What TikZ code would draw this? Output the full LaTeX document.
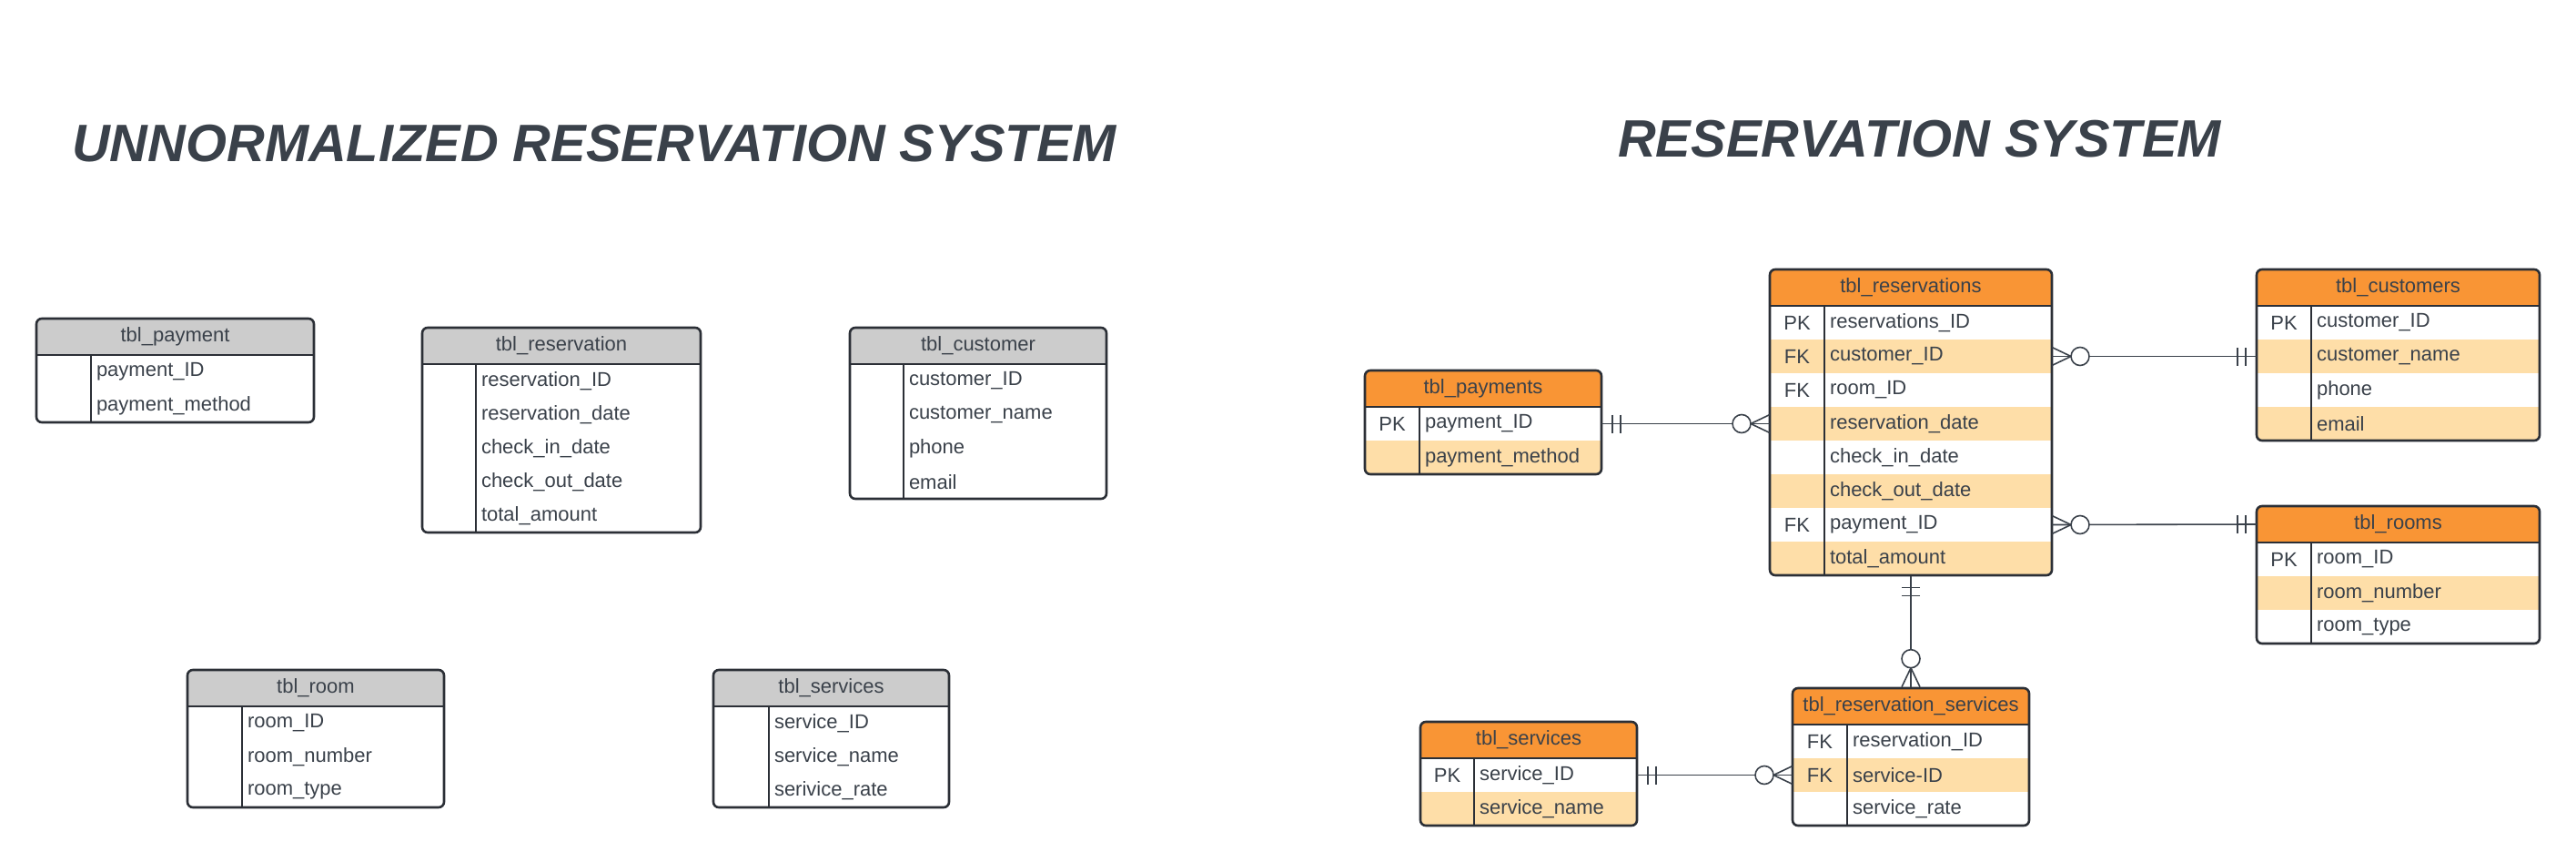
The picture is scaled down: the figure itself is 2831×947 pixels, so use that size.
\documentclass[tikz,border=0pt]{standalone}
\usepackage{fontspec}
\setmainfont{Liberation Sans}
\usetikzlibrary{positioning,fit}
\definecolor{inkgray}{HTML}{3A414A}
\definecolor{framegray}{HTML}{2B2F36}
\definecolor{headgray}{HTML}{CCCCCC}
\definecolor{headorange}{HTML}{F99535}
\definecolor{rowpeach}{HTML}{FEDEA8}
\newcommand{\tblfont}{\fontsize{22}{26}\selectfont}
\tikzset{
    headline/.style={
        font=\fontsize{57.8}{60}\selectfont\bfseries\itshape,
        text=inkgray,
        anchor=base west,
        inner sep=0pt
    },
    tblhead/.style={
        minimum height=40pt,
        inner sep=0pt,
        outer sep=0pt,
        font=\tblfont,
        text=inkgray
    },
    keycell/.style={
        minimum height=37pt,
        inner sep=0pt,
        outer sep=0pt,
        font=\tblfont,
        text=inkgray
    },
    fieldcell/.style={
        minimum height=37pt,
        inner xsep=6pt,
        inner ysep=0pt,
        outer sep=0pt,
        align=left,
        font=\tblfont,
        text=inkgray
    },
    tblframe/.style={draw=framegray, line width=2.6pt, rounded corners=6pt, inner sep=0pt},
    tblline/.style={draw=framegray, line width=2.6pt},
    erlink/.style={draw=inkgray, line width=1.6pt}
}
% name, top left, width, key width, head fill, stripe fill, title, key/field rows
\newcommand{\ertable}[8]{%
    \foreach \k/\f [count=\n] in {#8} {\xdef\tblrowcount{\n}}
    \pgfmathsetmacro{\tblh}{40+37*\tblrowcount}
    \pgfmathsetmacro{\fieldtw}{#3-#4-12}
    \coordinate (#1-nw) at (#2);
    \begin{scope}
        \clip[rounded corners=6pt] (#1-nw) rectangle ++(#3,\tblh);
        \node[tblhead, fill=#5, minimum width=#3pt, anchor=north west, alias=#1-k0] (#1-h) at (#1-nw) {#7};
        \foreach \k/\f [count=\i] in {#8} {
            \pgfmathtruncatemacro{\j}{\i-1}
            \ifodd\i \def\rowfill{white}\else \def\rowfill{#6}\fi
            \node[keycell, fill=\rowfill, minimum width=#4pt, below=0pt of #1-k\j.south west, anchor=north west] (#1-k\i) {\k};
            \node[fieldcell, fill=\rowfill, text width=\fieldtw pt, right=0pt of #1-k\i] (#1-\i) {\f};
        }
    \end{scope}
    \node[tblframe, fit=(#1-nw)(#1-\tblrowcount.south east)] (#1) {};
    \draw[tblline] (#1-h.south west) -- (#1-h.south east);
    \draw[tblline] (#1-k1.north east) -- (#1-k\tblrowcount.south east);
}
% one and only one
\newcommand{\onemark}[2]{%
    \begin{scope}[shift={(#1)}, rotate=#2]
        \draw[erlink] (12,-10) -- (12,10) (21,-10) -- (21,10);
    \end{scope}
}
% zero or many
\newcommand{\manymark}[2]{%
    \begin{scope}[shift={(#1)}, rotate=#2]
        \draw[erlink] (0,-10) -- (21,0) -- (0,10);
        \draw[erlink, fill=white] (31,0) circle[radius=10];
    \end{scope}
}

\begin{document}
\begin{tikzpicture}[x=1pt, y=-1pt]
    \useasboundingbox (0,0) rectangle (2831,947);
    \fill[white] (0,0) rectangle (2831,947);

    \node[headline] (ttl0) at (79,177) {UNNORMALIZED RESERVATION SYSTEM};
    \node[headline] (ttl) at (1778,172) {RESERVATION SYSTEM};

    % unnormalized
    \ertable{pay0}{40,350}{305}{60}{headgray}{white}{tbl\_payment}{/payment\_ID, /payment\_method}
    \ertable{res0}{464,360}{306}{59}{headgray}{white}{tbl\_reservation}{/reservation\_ID, /reservation\_date, /check\_in\_date, /check\_out\_date, /total\_amount}
    \ertable{cus0}{934,360}{282}{59}{headgray}{white}{tbl\_customer}{/customer\_ID, /customer\_name, /phone, /email}
    \ertable{rom0}{206,736}{282}{60}{headgray}{white}{tbl\_room}{/room\_ID, /room\_number, /room\_type}
    \ertable{srv0}{784,736}{259}{61}{headgray}{white}{tbl\_services}{/service\_ID, /service\_name, /serivice\_rate}

    % normalized
    \ertable{pay}{1500,407}{260}{60}{headorange}{rowpeach}{tbl\_payments}{PK/payment\_ID, /payment\_method}
    \ertable{res}{1945,296}{310}{60}{headorange}{rowpeach}{tbl\_reservations}{PK/reservations\_ID, FK/customer\_ID, FK/room\_ID, /reservation\_date, /check\_in\_date, /check\_out\_date, FK/payment\_ID, /total\_amount}
    \ertable{cus}{2480,296}{311}{60}{headorange}{rowpeach}{tbl\_customers}{PK/customer\_ID, /customer\_name, /phone, /email}
    \ertable{rom}{2480,556}{311}{60}{headorange}{rowpeach}{tbl\_rooms}{PK/room\_ID, /room\_number, /room\_type}
    \ertable{srv}{1561,793}{238}{59}{headorange}{rowpeach}{tbl\_services}{PK/service\_ID, /service\_name}
    \ertable{rs}{1970,756}{260}{60}{headorange}{rowpeach}{tbl\_reservation\_services}{FK/reservation\_ID, FK/service-ID, /service\_rate}

    \draw[erlink] (pay-1.east) -- (res-k4.west);
    \draw[erlink] (res-2.east) -- (cus-k2.west);
    \draw[erlink] (res-7.east) -- (rom-h.west);
    \draw[erlink] (res.south) -- (rs.north);
    \draw[erlink] (srv-1.east) -- (rs-k2.west);

    \onemark{pay-1.east}{0}
    \manymark{res-k4.west}{180}
    \manymark{res-2.east}{0}
    \onemark{cus-k2.west}{180}
    \manymark{res-7.east}{0}
    \onemark{rom-h.west}{180}
    \onemark{res.south}{-90}
    \manymark{rs.north}{90}
    \onemark{srv-1.east}{0}
    \manymark{rs-k2.west}{180}
\end{tikzpicture}
\end{document}
